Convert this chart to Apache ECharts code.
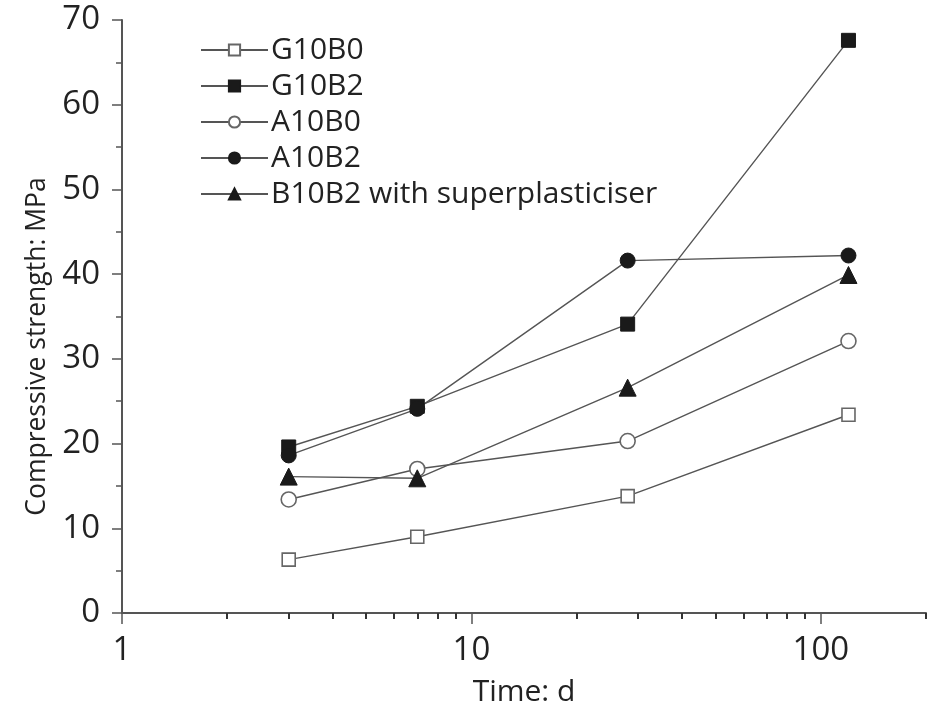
<!DOCTYPE html>
<html><head><meta charset="utf-8">
<script src="https://cdn.jsdelivr.net/npm/echarts@6/dist/echarts.min.js"></script>
<style>html,body{margin:0;padding:0;background:#fff}#c{width:937px;height:712px}</style>
</head><body><div id="c"></div>
<script>
const days = [3, 7, 28, 120];
const G10B0 = [6.3, 9.0, 13.8, 23.4];
const G10B2 = [19.6, 24.4, 34.1, 67.6];
const A10B0 = [13.4, 17.0, 20.3, 32.1];
const A10B2 = [18.6, 24.1, 41.6, 42.2];
const B10B2 = [16.1, 15.9, 26.6, 39.9];
const seriesNames = ['G10B0', 'G10B2', 'A10B0', 'A10B2', 'B10B2 with superplasticiser'];
const xMajorTicks = [1, 10, 100];
const xMinorTicks = [2,3,4,5,6,7,8,9,20,30,40,50,60,70,80,90,200];

const font = '"Open Sans", "Noto Sans", sans-serif';
const lineCol = '#555';
const pair = ys => days.map((d, i) => [d, ys[i]]);
const mk = (name, ys, symbol, filled, size) => ({
  name, type: 'line', data: pair(ys), symbol, symbolSize: size,
  lineStyle: { color: lineCol, width: 1.4 },
  itemStyle: filled ? { color: '#1a1a1a', borderColor: '#1a1a1a', borderWidth: 1 }
                    : { color: '#fff', borderColor: '#666', borderWidth: 1.6 },
  emphasis: { disabled: true }, z: 3
});
const chart = echarts.init(document.getElementById('c'), null, { renderer: 'canvas' });
chart.setOption({
  animation: false,
  backgroundColor: '#fff',
  grid: { left: 122, right: 11, top: 20, bottom: 95 },
  legend: {
    orient: 'vertical', left: 195, top: 30, itemWidth: 67, itemHeight: 14, itemGap: 6,
    textStyle: { fontFamily: font, fontSize: 30, color: '#222', lineHeight: 30, padding: [0,0,0,-2] },
    data: seriesNames
  },
  xAxis: [{
    type: 'log', logBase: 10, min: 1, max: 200,
    name: 'Time: d', nameLocation: 'middle', nameGap: 64,
    nameTextStyle: { fontFamily: font, fontSize: 30, color: '#222' },
    axisLine: { lineStyle: { color: lineCol, width: 2 } },
    axisTick: { show: true, inside: false, length: 11, customValues: xMajorTicks, lineStyle: { color: lineCol, width: 1.5 } },
    axisLabel: { fontFamily: font, fontSize: 33, color: '#222', margin: 21, customValues: xMajorTicks },
    splitLine: { show: false }
  }, {
    type: 'log', logBase: 10, min: 1, max: 200, position: 'bottom',
    axisLine: { show: false },
    axisTick: { show: true, inside: false, length: 6, customValues: xMinorTicks, lineStyle: { color: '#333', width: 2 } },
    axisLabel: { show: false },
    splitLine: { show: false }
  }],
  yAxis: {
    type: 'value', min: 0, max: 70, interval: 10,
    name: 'Compressive strength: MPa', nameLocation: 'middle', nameGap: 70,
    nameTextStyle: { fontFamily: font, fontSize: 26.5, color: '#222', padding: [0, 60, 0, 0] },
    axisLine: { show: true, lineStyle: { color: lineCol, width: 2 } },
    axisTick: { show: true, length: 10, lineStyle: { color: lineCol, width: 1.5 } },
    minorTick: { show: true, splitNumber: 2, length: 6, lineStyle: { color: lineCol, width: 1.5 } },
    axisLabel: { fontFamily: font, fontSize: 33, color: '#222', margin: 22 },
    splitLine: { show: false }
  },
  series: [
    mk(seriesNames[0], G10B0, 'rect', false, 13),
    mk(seriesNames[1], G10B2, 'rect', true, 14),
    mk(seriesNames[2], A10B0, 'circle', false, 15),
    mk(seriesNames[3], A10B2, 'circle', true, 15),
    mk(seriesNames[4], B10B2, 'triangle', true, 17)
  ]
});
</script></body></html>
